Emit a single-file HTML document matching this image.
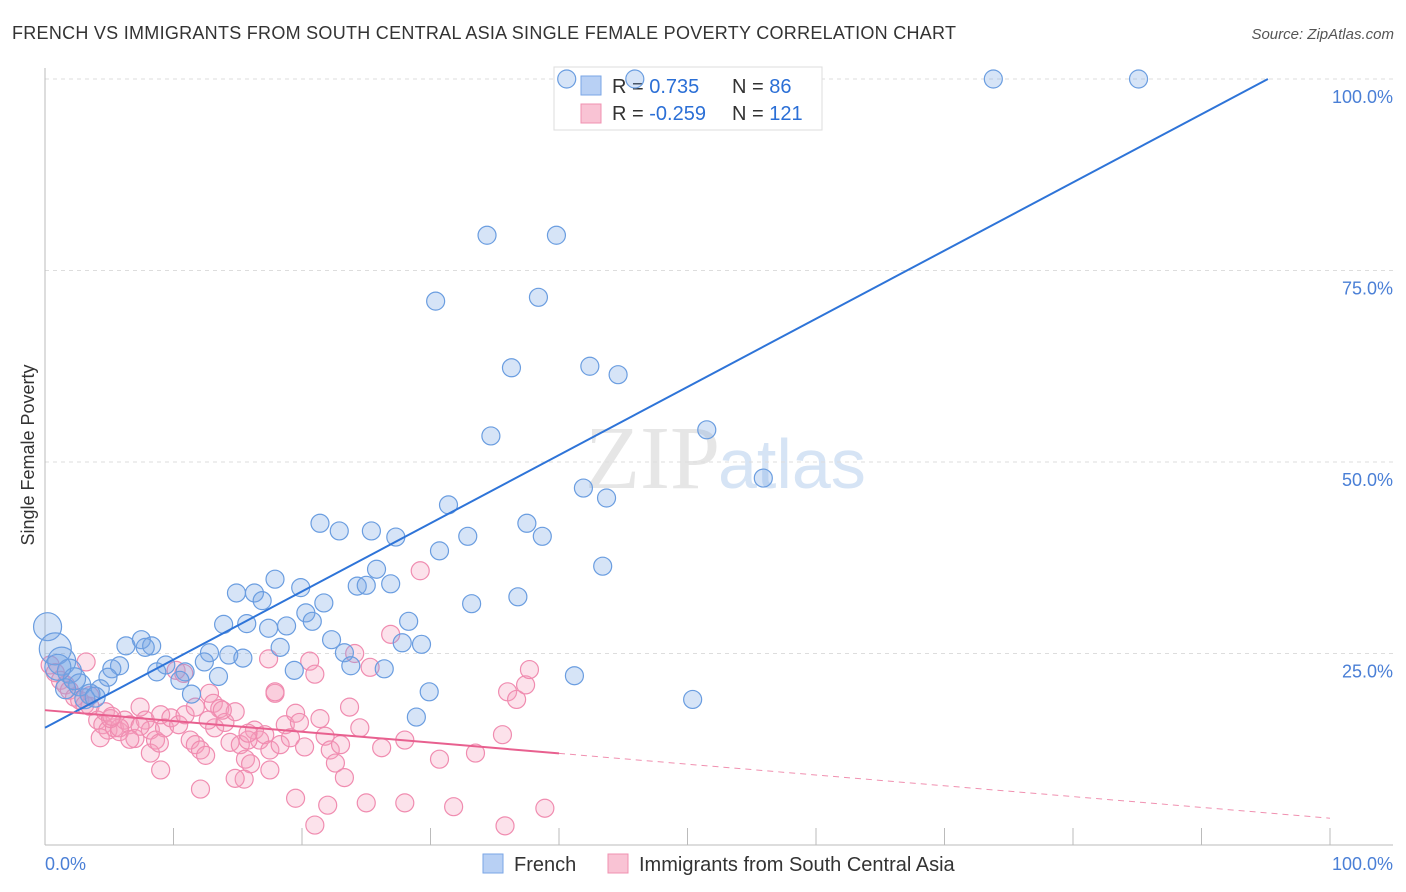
<!DOCTYPE html>
<html><head><meta charset="utf-8">
<style>
body{margin:0;background:#fff;font-family:"Liberation Sans",sans-serif;}
svg{display:block}
</style></head>
<body>
<svg id="chart" width="1406" height="892">
<text x="12" y="39" font-size="18" fill="#333" textLength="944" lengthAdjust="spacing">FRENCH VS IMMIGRANTS FROM SOUTH CENTRAL ASIA SINGLE FEMALE POVERTY CORRELATION CHART</text>
<text x="1394" y="39" font-size="15" fill="#555" font-style="italic" text-anchor="end">Source: ZipAtlas.com</text>
<text x="720" y="488" font-size="90" fill="#e6e6e6" text-anchor="end" font-family="Liberation Serif">ZIP</text>
<text x="718" y="488" font-size="70" fill="#d6e4f5">atlas</text>
<text transform="translate(34,455) rotate(-90)" font-size="18" fill="#333" text-anchor="middle">Single Female Poverty</text>
<g id="grid"></g>
<g>
<rect x="554" y="67" width="268" height="63" fill="#fff" stroke="#ddd"/>
<rect x="581" y="76" width="20" height="19" fill="#b8d0f4" stroke="#7aa6e6"/>
<rect x="581" y="104" width="20" height="19" fill="#f9c3d4" stroke="#f090b0"/>
<text x="612" y="93" font-size="20" fill="#333">R = <tspan fill="#2b6fd6">0.735</tspan></text>
<text x="732" y="93" font-size="20" fill="#333">N = <tspan fill="#2b6fd6">86</tspan></text>
<text x="612" y="120" font-size="20" fill="#333">R = <tspan fill="#2b6fd6">-0.259</tspan></text>
<text x="732" y="120" font-size="20" fill="#333">N = <tspan fill="#2b6fd6">121</tspan></text>
</g>
<g id="pts"></g><g id="lines"></g>
<g>
<rect x="483" y="854" width="20" height="19" fill="#b8d0f4" stroke="#7aa6e6"/>
<text x="514" y="871" font-size="20" fill="#333">French</text>
<rect x="608" y="854" width="20" height="19" fill="#f9c3d4" stroke="#f090b0"/>
<text x="639" y="871" font-size="20" fill="#333">Immigrants from South Central Asia</text>
</g>
<text x="45" y="870" font-size="18" fill="#4a7fd6">0.0%</text>
<text x="1393" y="870" font-size="18" fill="#4a7fd6" text-anchor="end">100.0%</text>
</svg>
<script>
const yTicks=[100,75,50,25];
const yTickLabels=["100.0%","75.0%","50.0%","25.0%"];
const xTicks=[0,10,20,30,40,50,60,70,80,90,100];
const frenchX=[40.6,45.9,73.8,85.1,34.4,39.8,30.4,38.4,36.3,42.4,44.6,34.7,51.5,55.9,41.9,43.7,31.4,21.4,22.9,25.4,27.3,37.5,32.9,38.7,30.7,43.4,25.8,17.9,24.3,25.0,26.9,14.9,16.3,16.9,19.9,21.7,33.2,36.8,20.3,20.8,28.3,13.9,15.7,17.4,18.8,22.3,18.3,23.3,27.8,29.3,6.3,7.5,8.3,7.8,12.8,14.3,15.4,12.4,9.4,5.8,5.2,23.8,19.4,26.4,10.9,13.5,8.7,41.2,10.5,4.9,4.3,29.9,11.4,50.4,28.9,0.2,0.8,1.3,1.9,2.7,3.5,1.6,3.1,3.9,2.3,1.0];
const frenchY=[100,100,100,100,79.6,79.6,71.0,71.5,62.3,62.5,61.4,53.4,54.2,47.9,46.6,45.3,44.4,42.0,41.0,41.0,40.2,42.0,40.3,40.3,38.4,36.4,36.0,34.7,33.8,33.9,34.1,32.9,32.9,31.9,33.6,31.6,31.5,32.4,30.3,29.2,29.2,28.8,28.9,28.3,28.6,26.8,25.8,25.1,26.4,26.2,26.0,26.8,26.0,25.8,25.1,24.8,24.4,23.9,23.5,23.4,23.0,23.4,22.8,23.0,22.6,22.0,22.6,22.1,21.5,21.9,20.4,20.0,19.7,19.0,16.7,28.5,25.6,24.0,22.7,20.9,19.7,20.4,19.1,19.3,21.7,23.2];
const frenchR=[9,9,9,9,9,9,9,9,9,9,9,9,9,9,9,9,9,9,9,9,9,9,9,9,9,9,9,9,9,9,9,9,9,9,9,9,9,9,9,9,9,9,9,9,9,9,9,9,9,9,9,9,9,9,9,9,9,9,9,9,9,9,9,9,9,9,9,9,9,9,9,9,9,9,9,14,16,14,12,11,10,10,10,10,11,13];
const imX=[0.4,0.8,1.2,1.6,1.9,2.3,2.7,3.1,3.5,4.1,4.5,4.9,5.4,5.8,4.3,6.2,6.6,7.4,7.8,8.2,8.6,9.0,9.3,9.8,10.4,10.9,11.3,11.7,12.1,12.5,12.8,13.1,13.6,13.2,14.0,14.4,14.8,15.2,15.6,16.0,16.3,16.7,17.1,17.5,17.9,18.3,18.7,19.1,19.5,19.8,20.2,20.6,21.0,21.4,21.8,22.2,22.6,23.0,23.3,23.7,24.1,24.5,25.3,26.2,26.9,28.0,29.2,30.7,33.5,35.6,36.0,36.7,37.4,37.7,38.9,35.8,31.8,28.0,25.0,22.0,21.0,19.5,12.1,15.5,14.8,17.4,17.9,10.2,10.8,12.7,11.7,15.8,8.2,7.0,5.8,4.7,3.5,3.2,5.1,9.0,13.8,15.8,7.4,5.2,6.6,8.9,17.5];
const imY=[23.5,22.5,21.5,20.9,20.2,19.3,18.9,18.3,18.1,16.3,15.7,15.0,15.3,14.8,14.0,16.3,15.7,18.0,16.3,15.0,13.7,17.0,15.3,16.6,15.7,17.0,13.7,13.1,12.4,11.7,19.8,18.5,17.8,15.3,16.0,13.4,17.4,13.1,11.2,10.6,15.0,13.7,14.4,12.4,19.8,13.1,15.7,14.0,17.2,16.0,12.8,24.0,22.3,16.5,14.2,12.4,10.7,13.1,8.8,18.0,25.0,15.3,23.2,12.7,27.5,13.7,35.8,11.2,12.0,14.4,20.0,19.0,20.9,22.9,4.8,2.5,5.0,5.5,5.5,5.2,2.6,6.1,7.3,8.6,8.7,24.3,20.0,22.8,22.4,16.3,18.0,13.7,12.0,13.9,15.3,17.4,19.5,23.9,16.5,9.8,17.6,14.6,15.5,16.8,13.8,13.3,9.8];
const xMin=45,xMax=1330,yTop=79,yBot=845;
const sx=v=>xMin+(xMax-xMin)*v/100, sy=v=>yBot-(yBot-yTop)*v/100;
const NS="http://www.w3.org/2000/svg";
function mk(tag,attrs,parent){const e=document.createElementNS(NS,tag);for(const k in attrs)e.setAttribute(k,attrs[k]);parent.appendChild(e);return e;}
const grid=document.getElementById('grid');
yTicks.forEach((t,i)=>{
 const l=mk('line',{x1:45,x2:1393,y1:sy(t),y2:sy(t),stroke:'#ddd','stroke-dasharray':'4,4'},grid);
 
 
 const tx=mk('text',{x:1393,y:sy(t)+24,'font-size':18,fill:'#4a7fd6','text-anchor':'end'},grid);
 tx.textContent=yTickLabels[i];
 
 
});
const ax=mk('line',{x1:45,x2:45,y1:68,y2:845,stroke:'#bbb'},grid);


const bx=mk('line',{x1:45,x2:1393,y1:845,y2:845,stroke:'#bbb'},grid);


xTicks.forEach(t=>{
 const l=mk('line',{x1:sx(t),x2:sx(t),y1:828,y2:845,stroke:'#bbb'},grid);
 
 
});
const pts=document.getElementById('pts');
imX.forEach((x,i)=>{
 const c=mk('circle',{cx:sx(x),cy:sy(imY[i]),r:9,fill:'rgba(245,160,190,0.3)',stroke:'#f08cb0','stroke-width':1.2},pts);
 
 
});
frenchX.forEach((x,i)=>{
 const c=mk('circle',{cx:sx(x),cy:sy(frenchY[i]),r:frenchR[i],fill:'rgba(120,165,230,0.3)',stroke:'#6a9de0','stroke-width':1.2},pts);
 
 
});
const lines=document.getElementById('lines');
const bTrend=[15.3,0.89];
const pTrend=[17.6,-0.141];
const bl=mk('line',{x1:sx(0),y1:sy(bTrend[0]),x2:sx((100-bTrend[0])/bTrend[1]),y2:sy(100),stroke:'#2e74d8','stroke-width':2},lines);


const pl=mk('line',{x1:sx(0),y1:sy(pTrend[0]),x2:sx(40),y2:sy(pTrend[0]+pTrend[1]*40),stroke:'#e8608f','stroke-width':2},lines);


const pd=mk('line',{x1:sx(40),y1:sy(pTrend[0]+pTrend[1]*40),x2:sx(100),y2:sy(pTrend[0]+pTrend[1]*100),stroke:'#f090b0','stroke-width':1,'stroke-dasharray':'6,5'},lines);


</script>
</body></html>
